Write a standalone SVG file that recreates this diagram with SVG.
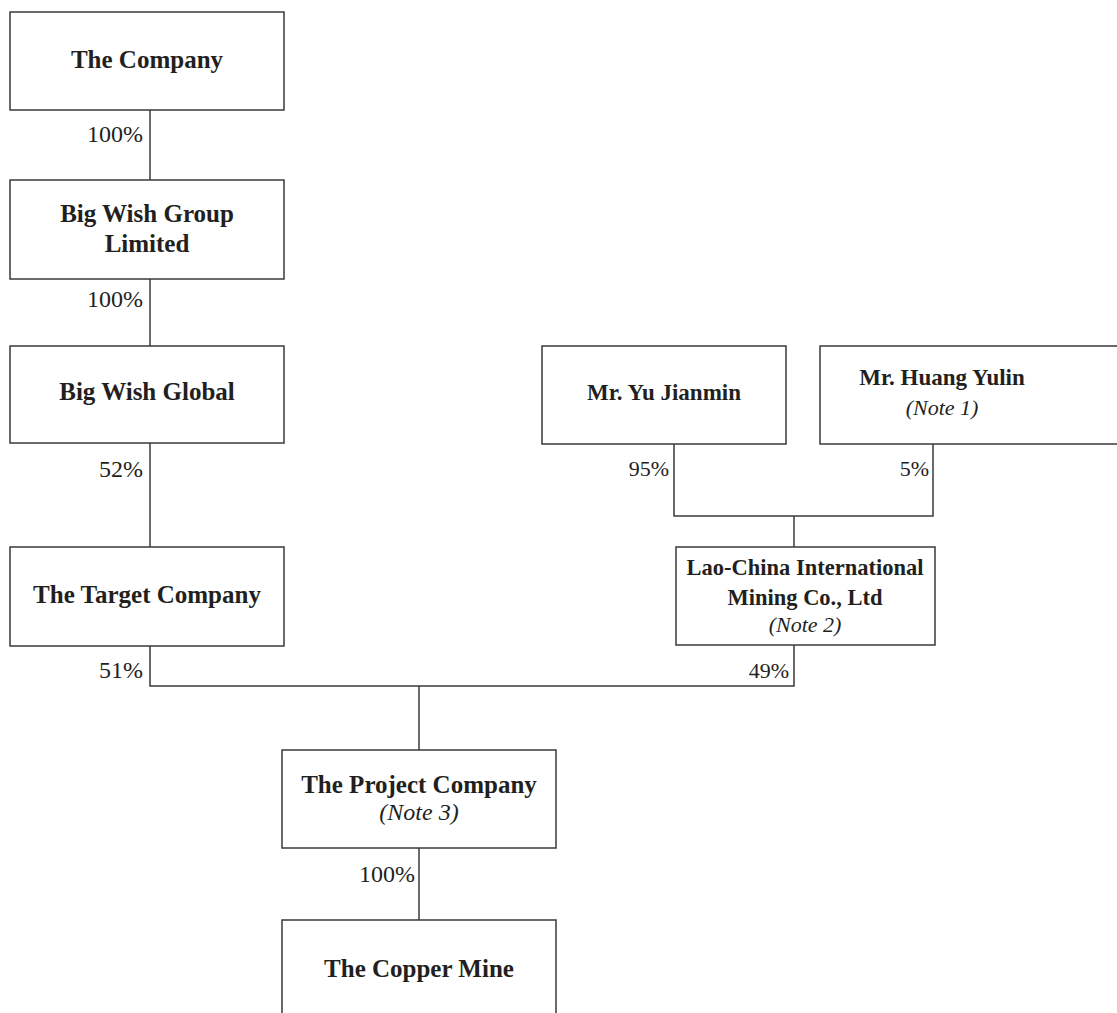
<svg xmlns="http://www.w3.org/2000/svg" width="1117" height="1013" viewBox="0 0 1117 1013">
<style>
.box{fill:#fff;stroke:#3a3a3a;stroke-width:1.5}
.ln{fill:none;stroke:#3a3a3a;stroke-width:1.5}
.b{font-family:"Liberation Serif",serif;font-weight:bold;font-size:25px;fill:#231f20;text-anchor:middle}
.bs{font-size:23px}
.bx{font-size:22.5px}
.i{font-family:"Liberation Serif",serif;font-style:italic;font-size:24px;fill:#231f20;text-anchor:middle}
.is{font-size:22px}
.p{font-family:"Liberation Serif",serif;font-size:24px;fill:#231f20;text-anchor:end}
.ps{font-size:22px}
</style>
<rect width="1117" height="1013" fill="#fff"/>
<g id="connectors">
<line class="ln" x1="150" y1="110" x2="150" y2="180"/>
<line class="ln" x1="150" y1="279" x2="150" y2="346"/>
<line class="ln" x1="150" y1="443" x2="150" y2="547"/>
<polyline class="ln" points="150,646 150,686 794,686 794,645"/>
<line class="ln" x1="419" y1="686" x2="419" y2="750"/>
<line class="ln" x1="419" y1="848" x2="419" y2="920"/>
<polyline class="ln" points="674,444 674,516 933,516 933,444"/>
<line class="ln" x1="794" y1="516" x2="794" y2="547"/>
<text class="p" x="143" y="142">100%</text>
<text class="p" x="143" y="307">100%</text>
<text class="p" x="143" y="477">52%</text>
<text class="p" x="143" y="678">51%</text>
<text class="p ps" x="669" y="476">95%</text>
<text class="p ps" x="929" y="476">5%</text>
<text class="p ps" x="789" y="678">49%</text>
<text class="p" x="415" y="882">100%</text>
</g>
<g id="company">
<rect class="box" x="10" y="12" width="274" height="98"/>
<text class="b" x="147" y="68">The Company</text>
</g>
<g id="bigwishgroup">
<rect class="box" x="10" y="180" width="274" height="99"/>
<text class="b" x="147" y="222">Big Wish Group</text>
<text class="b" x="147" y="252">Limited</text>
</g>
<g id="bigwishglobal">
<rect class="box" x="10" y="346" width="274" height="97"/>
<text class="b" x="147" y="400">Big Wish Global</text>
</g>
<g id="target">
<rect class="box" x="10" y="547" width="274" height="99"/>
<text class="b" x="147" y="603">The Target Company</text>
</g>
<g id="yu">
<rect class="box" x="542" y="346" width="244" height="98"/>
<text class="b bs" x="664" y="400">Mr. Yu Jianmin</text>
</g>
<g id="huang">
<rect class="box" x="820" y="346" width="320" height="98"/>
<text class="b bs" x="942" y="385">Mr. Huang Yulin</text>
<text class="i is" x="942" y="415">(Note 1)</text>
</g>
<g id="laochina">
<rect class="box" x="676" y="547" width="259" height="98"/>
<text class="b bx" x="805" y="575">Lao-China International</text>
<text class="b bx" x="805" y="605">Mining Co., Ltd</text>
<text class="i is" x="805" y="632">(Note 2)</text>
</g>
<g id="project">
<rect class="box" x="282" y="750" width="274" height="98"/>
<text class="b" x="419" y="793">The Project Company</text>
<text class="i" x="419" y="820">(Note 3)</text>
</g>
<g id="copper">
<rect class="box" x="282" y="920" width="274" height="110"/>
<text class="b" x="419" y="977">The Copper Mine</text>
</g>
</svg>
